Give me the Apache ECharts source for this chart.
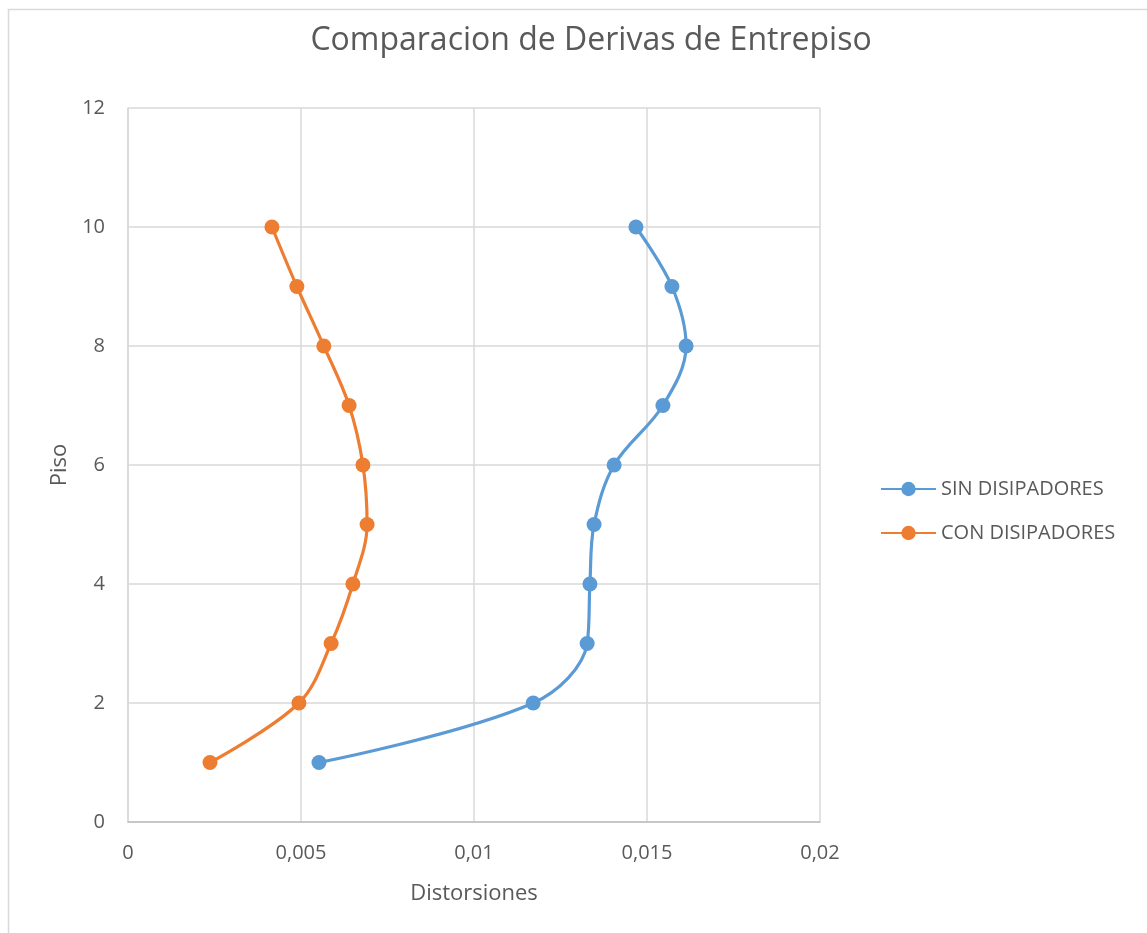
<!DOCTYPE html>
<html>
<head>
<meta charset="utf-8">
<script src="https://cdn.jsdelivr.net/npm/echarts@6/dist/echarts.min.js"></script>
<style>
html,body{margin:0;padding:0;background:#fff;}
#chart{width:1147px;height:933px;}
</style>
</head>
<body>
<div id="chart"></div>
<script>
const pisos = [1, 2, 3, 4, 5, 6, 7, 8, 9, 10];
const sinDisipadores = [0.00552, 0.01171, 0.01327, 0.01335, 0.01347, 0.01405, 0.01546, 0.01613, 0.01572, 0.01468];
const conDisipadores = [0.00237, 0.00494, 0.00587, 0.00650, 0.00691, 0.00679, 0.00639, 0.00566, 0.00488, 0.00416];
const seriesNames = ['SIN DISIPADORES', 'CON DISIPADORES'];
const seriesColors = ['#5b9bd5', '#ed7d31'];

const chart = echarts.init(document.getElementById('chart'));
const fontFam = '"Open Sans", "Liberation Sans", sans-serif';
function pairs(xs) { return xs.map((x, i) => [x, pisos[i]]); }
const makeSeries = (name, vals, color) => ({
  name: name,
  type: 'line',
  data: pairs(vals),
  smooth: 0.35,
  symbol: 'circle',
  symbolSize: 15,
  lineStyle: { width: 3.2, color: color },
  itemStyle: { color: color },
  emphasis: { disabled: true }
});

chart.setOption({
  animation: false,
  backgroundColor: '#fff',
  graphic: [{
    type: 'rect',
    shape: { x: 8.5, y: 9.5, width: 1200, height: 1000 },
    style: { fill: 'none', stroke: '#d9d9d9', lineWidth: 1.5 },
    silent: true
  }],
  title: {
    text: 'Comparacion de Derivas de Entrepiso',
    left: 586, top: 20, textAlign: 'center',
    textStyle: { fontFamily: fontFam, fontSize: 32, fontWeight: 'normal', color: '#595959' }
  },
  legend: {
    orient: 'vertical',
    left: 875, top: 474,
    itemWidth: 55, itemHeight: 18, itemGap: 24,
    data: seriesNames,
    textStyle: { fontFamily: fontFam, fontSize: 20, color: '#595959' }
  },
  grid: { left: 128, top: 108, right: 327, bottom: 111 },
  xAxis: {
    type: 'value', min: 0, max: 0.02, interval: 0.005,
    name: 'Distorsiones', nameLocation: 'middle', nameGap: 61,
    nameTextStyle: { fontFamily: fontFam, fontSize: 22, color: '#595959' },
    axisLine: { show: true, lineStyle: { color: '#bfbfbf', width: 1.5 } },
    axisTick: { show: false },
    axisLabel: {
      margin: 21, fontFamily: fontFam, fontSize: 20, color: '#595959',
      formatter: v => String(+v.toFixed(4)).replace('.', ',')
    },
    splitLine: { show: true, lineStyle: { color: '#d9d9d9', width: 1.5 } }
  },
  yAxis: {
    type: 'value', min: 0, max: 12, interval: 2,
    name: 'Piso', nameLocation: 'middle', nameGap: 54, nameRotate: 90,
    nameTextStyle: { fontFamily: fontFam, fontSize: 22, color: '#595959' },
    axisLine: { show: true, lineStyle: { color: '#d9d9d9', width: 1.5 } },
    axisTick: { show: false },
    axisLabel: { margin: 23, fontFamily: fontFam, fontSize: 20, color: '#595959' },
    splitLine: { show: true, lineStyle: { color: '#d9d9d9', width: 1.5 } }
  },
  series: [
    makeSeries(seriesNames[0], sinDisipadores, seriesColors[0]),
    makeSeries(seriesNames[1], conDisipadores, seriesColors[1])
  ]
});
</script>
</body>
</html>
